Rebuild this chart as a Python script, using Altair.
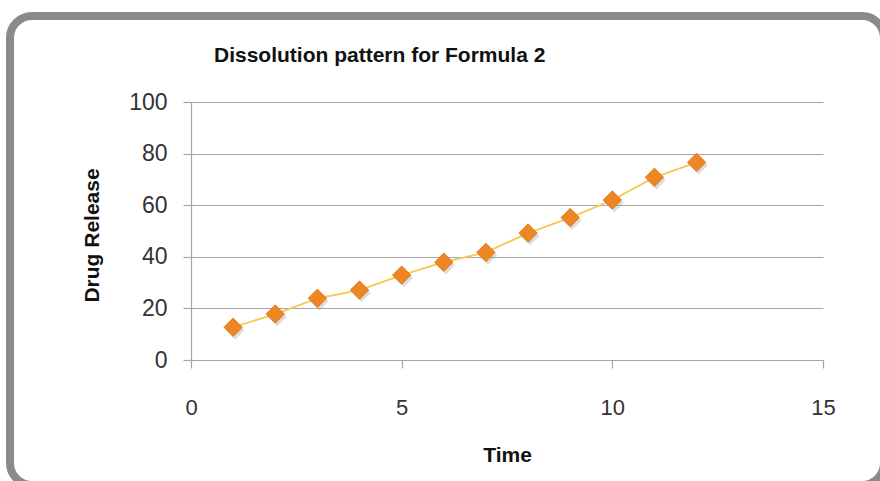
import altair as alt
import pandas as pd

time = [1, 2, 3, 4, 5, 6, 7, 8, 9, 10, 11, 12]
release = [12.7, 17.8, 23.9, 27.1, 32.9, 37.9, 41.7, 49.2, 55.2, 62.0, 70.8, 76.6]
x_ticks = [0, 5, 10, 15]
y_ticks = [0, 20, 40, 60, 80, 100]

df = pd.DataFrame({"Time": time, "Drug Release": release})

FONT = "Liberation Sans"
GRID = "#a6a6a6"

x = alt.X("Time:Q", scale=alt.Scale(domain=[0, 15], nice=False),
          axis=alt.Axis(values=x_ticks, grid=False, title="Time", tickSize=8,
                        labelPadding=29, labelFlush=False, titleX=316, titleY=95,
                        titleBaseline="middle", titleAnchor="middle"))
y = alt.Y("Drug Release:Q", scale=alt.Scale(domain=[0, 100], nice=False),
          axis=alt.Axis(values=y_ticks, title="Drug Release", tickSize=8,
                        labelPadding=16, labelFontSize=23, titleX=-99, titleY=133,
                        titleBaseline="middle", titleAnchor="middle", titleAngle=-90))

base = alt.Chart(df)

line = base.mark_line(color="#F5C94E", strokeWidth=1.8).encode(x=x, y=y)
shadow = base.mark_point(shape="diamond", size=340, filled=True, color="#8a8a8a",
                         opacity=0.3, xOffset=2, yOffset=3).encode(x=x, y=y)
points = base.mark_point(shape="diamond", size=340, filled=True, color="#EE8624",
                         opacity=1, stroke="#D9711A", strokeWidth=0.8).encode(x=x, y=y)

frame = alt.Chart(alt.Data(values=[{}])).mark_rect(
    fill=None, fillOpacity=0, stroke="#8a8a8a", strokeWidth=8, cornerRadius=22
).encode(x=alt.value(-181), x2=alt.value(693), y=alt.value(-86), y2=alt.value(383))

title = alt.Chart(alt.Data(values=[{"t": "Dissolution pattern for Formula 2"}])).mark_text(
    align="left", baseline="alphabetic", font=FONT, fontSize=21, fontWeight="bold",
    color="#111111"
).encode(text="t:N", x=alt.value(23), y=alt.value(-40))

chart = alt.layer(frame, line, shadow, points, title).properties(
    width=632, height=258,
    autosize=alt.AutoSizeParams(type="none"),
    padding={"left": 191, "top": 102, "right": 57, "bottom": 121},
    background="white",
).configure_view(stroke=None).configure_axis(
    domainColor=GRID, tickColor=GRID, gridColor=GRID, domainWidth=1.2, gridWidth=1.2,
    tickWidth=1.2, labelFont=FONT, labelFontSize=22, labelColor="#333333",
    titleFont=FONT, titleFontSize=21, titleFontWeight="bold", titleColor="#111111",
)

chart.save("out.html", embed_options={"renderer": "svg", "actions": False})
